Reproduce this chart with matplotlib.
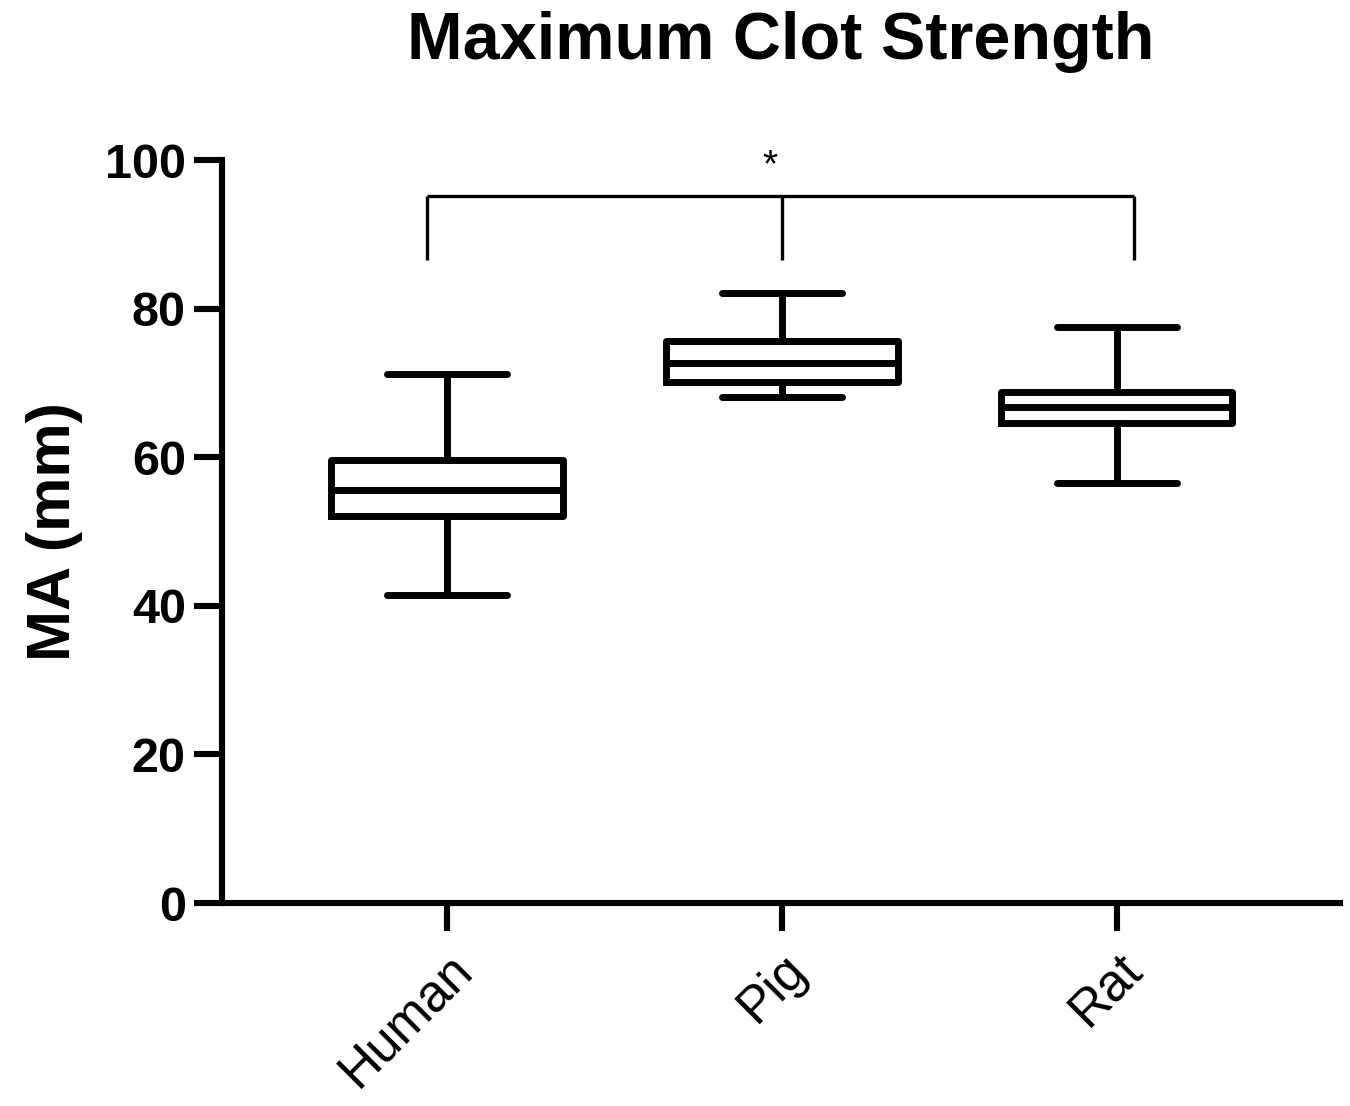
import matplotlib
matplotlib.use("Agg")
import matplotlib.pyplot as plt

plt.rcParams["font.family"] = ["Liberation Sans", "DejaVu Sans"]

# box plot summary values (MA, mm)
groups = ["Human", "Pig", "Rat"]
whisker_low = [41.5, 68.1, 56.5]
q1 = [52.1, 70.1, 64.6]
median = [55.6, 72.7, 66.8]
q3 = [59.6, 75.6, 68.8]
whisker_high = [71.2, 82.1, 77.5]

# significance bracket
bracket_x = [0.94, 2.0, 3.05]
bracket_y = 95.2
bracket_leg_bottom = 86.5

yticks = [0, 20, 40, 60, 80, 100]

fig = plt.figure(figsize=(13.5, 11.06), dpi=100)
ax = fig.add_axes([0.1644, 0.1835, 0.8282, 0.6718])

stats = []
for i, g in enumerate(groups):
    stats.append({
        "label": g,
        "whislo": whisker_low[i],
        "q1": q1[i],
        "med": median[i],
        "q3": q3[i],
        "whishi": whisker_high[i],
        "fliers": [],
    })

lw = 5.0
positions = list(range(1, len(groups) + 1))
ax.bxp(stats, positions=positions, widths=0.69, showfliers=False,
       boxprops=dict(color="black", linewidth=lw),
       whiskerprops=dict(color="black", linewidth=lw),
       capprops=dict(color="black", linewidth=lw, solid_capstyle="round"),
       medianprops=dict(color="black", linewidth=lw),
       capwidths=0.36)

# bracket with asterisk
ax.plot([bracket_x[0], bracket_x[-1]], [bracket_y, bracket_y],
        color="black", lw=2.4, solid_capstyle="butt")
for bx in bracket_x:
    ax.plot([bx, bx], [bracket_leg_bottom, bracket_y],
            color="black", lw=2.4, solid_capstyle="butt")
ax.text(bracket_x[1] - 0.035, bracket_y + 1.6, "*", ha="center", va="bottom",
        fontsize=28)

ax.set_xlim(0.328, 3.666)
ax.set_ylim(0, 100)
ax.set_yticks(yticks)
ax.set_yticklabels([str(t) for t in yticks], fontsize=35, fontweight="bold")
ax.set_xticks(positions)
ax.set_xticklabels(groups, fontsize=37, rotation=45,
                   ha="right", va="top", rotation_mode="anchor")

for side in ["top", "right"]:
    ax.spines[side].set_visible(False)
for side in ["left", "bottom"]:
    ax.spines[side].set_linewidth(4.4)
ax.tick_params(axis="both", width=4.4, length=20, pad=6)
ax.tick_params(axis="x", pad=10)

ax.set_ylabel("MA (mm)", fontsize=44, fontweight="bold", labelpad=16)
fig.suptitle("Maximum Clot Strength", fontsize=48, fontweight="bold",
             x=0.578, y=0.99)

fig.savefig("out.png", dpi=100)
